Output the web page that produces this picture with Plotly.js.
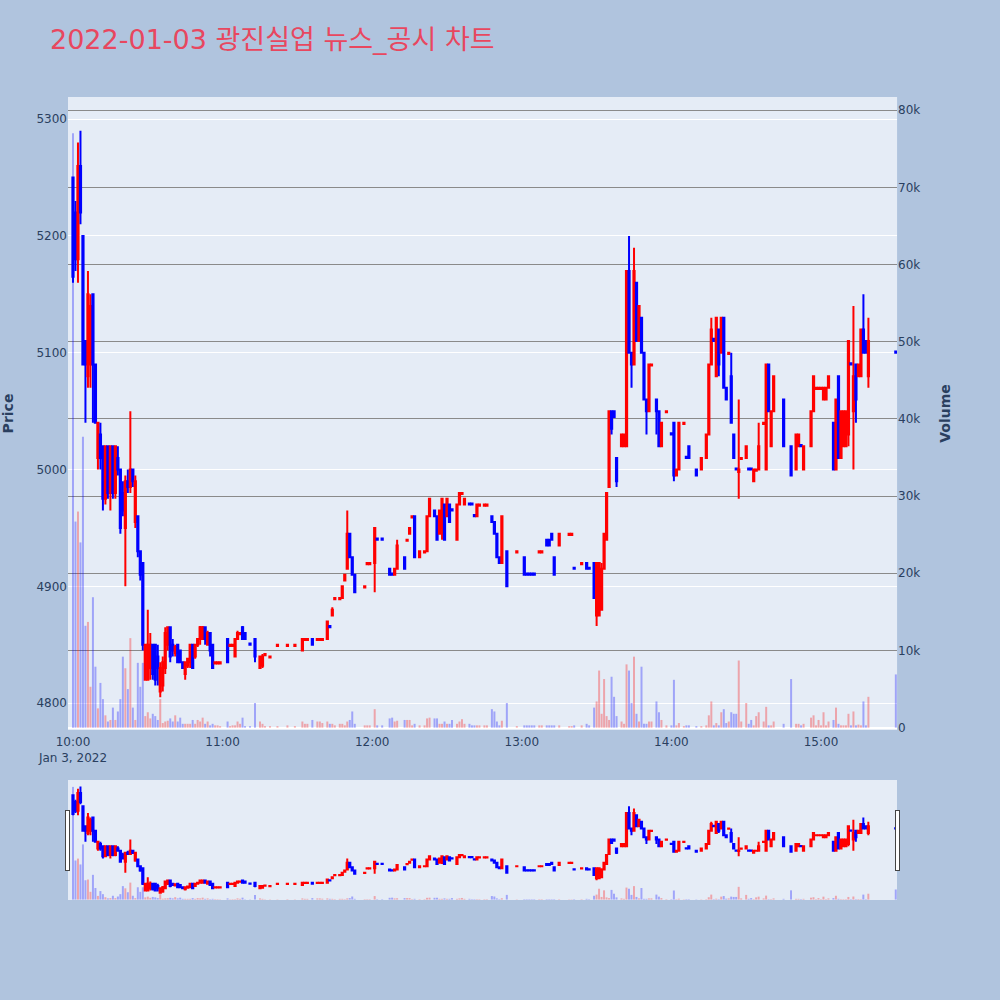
<!DOCTYPE html>
<html><head><meta charset="utf-8">
<script src="https://cdn.plot.ly/plotly-3.0.1.min.js"></script>
<style>body{margin:0;background:#B0C4DE;}</style>
</head><body>
<div id="chart" style="width:1000px;height:1000px;"></div>
<script>
const day = '2022-01-03 ';
const times = ['10:00','10:01','10:02','10:03','10:04','10:05','10:06','10:07','10:08','10:09','10:10','10:11','10:12','10:13','10:14','10:15','10:16','10:17','10:18','10:19','10:20','10:21','10:22','10:23','10:24','10:25','10:26','10:27','10:28','10:29','10:30','10:31','10:32','10:33','10:34','10:35','10:36','10:37','10:38','10:39','10:40','10:41','10:42','10:43','10:44','10:45','10:46','10:47','10:48','10:49','10:50','10:51','10:52','10:53','10:54','10:55','10:56','10:57','10:58','10:59','11:02','11:03','11:04','11:05','11:06','11:07','11:08','11:09','11:11','11:13','11:15','11:16','11:17','11:19','11:22','11:26','11:29','11:32','11:33','11:34','11:36','11:38','11:39','11:40','11:42','11:43','11:44','11:45','11:47','11:48','11:49','11:50','11:51','11:52','11:53','11:57','11:58','11:59','12:01','12:02','12:04','12:07','12:08','12:09','12:10','12:13','12:14','12:15','12:16','12:17','12:19','12:21','12:22','12:23','12:25','12:26','12:27','12:28','12:29','12:30','12:31','12:32','12:34','12:35','12:36','12:37','12:39','12:40','12:41','12:42','12:43','12:45','12:46','12:48','12:49','12:50','12:51','12:52','12:54','12:58','13:01','13:02','13:03','13:04','13:05','13:07','13:08','13:10','13:11','13:12','13:13','13:15','13:19','13:20','13:21','13:24','13:26','13:27','13:29','13:30','13:31','13:32','13:33','13:34','13:35','13:36','13:37','13:38','13:40','13:41','13:42','13:43','13:44','13:45','13:46','13:47','13:48','13:49','13:50','13:51','13:52','13:54','13:55','13:56','13:58','14:00','14:01','14:02','14:03','14:05','14:06','14:07','14:10','14:12','14:14','14:15','14:16','14:17','14:18','14:19','14:20','14:21','14:22','14:23','14:24','14:25','14:26','14:27','14:28','14:30','14:31','14:32','14:33','14:34','14:35','14:37','14:38','14:39','14:40','14:41','14:45','14:48','14:50','14:51','14:52','14:53','14:56','14:57','14:58','14:59','15:00','15:01','15:02','15:03','15:05','15:06','15:07','15:08','15:09','15:10','15:11','15:12','15:13','15:14','15:15','15:16','15:17','15:18','15:19','15:30'];
const openP = [5250,5220,5180,5260,5200,5110,5080,5090,5150,5090,5010,5030,5020,4975,5020,4980,5020,4980,5010,5000,4980,4950,4990,4985,5000,4955,4960,4930,4920,4820,4820,4830,4850,4850,4840,4810,4815,4830,4850,4865,4850,4843,4850,4845,4835,4825,4832,4835,4850,4840,4850,4855,4855,4865,4850,4860,4850,4834,4834,4834,4855,4849,4849,4840,4855,4859,4865,4860,4851,4855,4830,4832,4841,4839,4849,4849,4849,4845,4854,4854,4855,4854,4854,4854,4855,4866,4875,4889,4889,4890,4905,4915,4945,4925,4910,4899,4919,4919,4920,4941,4941,4915,4911,4910,4915,4925,4939,4945,4959,4960,4925,4929,4930,4960,4965,4960,4945,4950,4970,4960,4970,4966,4940,4970,4979,4970,4971,4971,4961,4960,4969,4969,4969,4960,4955,4945,4925,4920,4930,4929,4925,4911,4911,4911,4911,4929,4929,4940,4940,4945,4925,4935,4944,4944,4916,4919,4920,4916,4920,4875,4875,4880,4915,4940,4985,5050,5050,5010,5020,5020,5020,5170,5100,5090,5160,5110,5130,5100,5060,5050,5089,5060,5050,5020,5049,5031,5040,4995,5000,5039,5011,5020,5000,5000,5010,5030,5090,5112,5080,5120,5100,5130,5070,5099,5080,5030,5001,4998,5009,5010,5001,5001,4990,4999,5000,5039,5000,5090,5020,5050,5060,5020,5000,5020,5021,5000,5020,5050,5069,5069,5069,5060,5060,5070,5040,5000,5080,5010,5020,5020,5030,5091,5050,5090,5080,5080,5120,5110,5080,5101];
const highP = [5250,5230,5280,5290,5200,5110,5170,5150,5150,5090,5040,5040,5020,5020,5020,5020,5020,5020,5020,5000,4990,4995,5000,5050,5000,4995,4960,4930,4920,4850,4880,4860,4850,4850,4850,4835,4840,4865,4865,4865,4855,4850,4850,4845,4835,4835,4838,4850,4850,4850,4855,4866,4866,4865,4862,4860,4850,4835,4835,4835,4855,4850,4850,4855,4862,4860,4866,4860,4851,4855,4840,4842,4842,4840,4850,4850,4850,4855,4855,4855,4855,4855,4855,4855,4870,4866,4882,4890,4890,4900,4910,4965,4945,4925,4910,4900,4920,4920,4950,4941,4941,4915,4911,4915,4940,4925,4940,4950,4960,4960,4930,4930,4960,4975,4965,4960,4965,4975,4970,4975,4970,4966,4970,4980,4980,4975,4971,4971,4961,4970,4970,4970,4970,4960,4955,4945,4925,4960,4930,4930,4925,4911,4911,4911,4911,4930,4930,4940,4940,4945,4925,4945,4945,4945,4916,4920,4920,4916,4920,4920,4920,4920,4945,4980,5050,5050,5050,5010,5030,5030,5170,5200,5100,5190,5160,5140,5130,5100,5060,5090,5090,5060,5050,5040,5050,5031,5040,5000,5040,5040,5011,5020,5000,5010,5030,5090,5130,5112,5130,5120,5130,5130,5070,5100,5100,5030,5001,5060,5010,5020,5001,5001,5000,5000,5040,5040,5090,5090,5050,5080,5060,5020,5030,5030,5021,5020,5050,5080,5070,5070,5070,5070,5070,5080,5040,5060,5080,5050,5050,5050,5110,5091,5140,5090,5090,5120,5150,5110,5130,5101];
const lowP = [5160,5170,5160,5210,5090,5040,5070,5070,5040,5040,5000,5000,4965,4970,4975,4965,4975,4975,4995,4945,4960,4900,4980,4980,4985,4950,4925,4905,4845,4820,4820,4820,4820,4815,4815,4805,4810,4825,4845,4835,4840,4840,4835,4835,4830,4820,4830,4830,4830,4838,4848,4850,4855,4850,4850,4840,4830,4834,4834,4834,4835,4849,4849,4840,4855,4859,4855,4855,4850,4835,4830,4830,4841,4839,4849,4849,4849,4845,4854,4854,4850,4854,4854,4854,4855,4865,4875,4889,4889,4890,4905,4915,4925,4910,4895,4899,4919,4919,4895,4940,4940,4910,4910,4910,4915,4915,4939,4945,4959,4925,4925,4929,4930,4960,4960,4940,4945,4940,4940,4960,4955,4965,4940,4970,4979,4970,4970,4970,4960,4960,4969,4969,4969,4955,4945,4925,4920,4920,4900,4929,4910,4910,4910,4910,4910,4929,4929,4935,4935,4940,4910,4935,4944,4944,4915,4919,4915,4915,4890,4866,4875,4880,4915,4940,4985,5030,5045,4985,5020,5020,5020,5100,5070,5090,5110,5110,5100,5060,5030,5050,5089,5030,5020,5020,5049,5030,4990,4995,5000,5039,5010,5010,4995,5000,5010,5030,5090,5110,5080,5080,5100,5070,5060,5099,5040,5010,5000,4975,5009,5010,5000,5000,4990,4999,5000,5039,5000,5050,5020,5050,5020,4995,5000,5020,5020,5000,5020,5050,5069,5069,5069,5060,5060,5070,5000,5000,5010,5010,5020,5020,5020,5090,5000,5040,5080,5080,5100,5100,5070,5100];
const closeP = [5165,5180,5260,5220,5090,5090,5150,5140,5090,5040,5040,5010,4975,5020,4980,5020,4980,5020,5000,4950,4965,4990,4985,5000,4990,4990,4930,4910,4850,4850,4850,4850,4825,4820,4830,4830,4835,4860,4865,4840,4845,4848,4835,4835,4830,4835,4838,4850,4830,4850,4855,4865,4865,4855,4860,4845,4830,4835,4835,4835,4835,4850,4850,4855,4860,4860,4855,4855,4850,4840,4840,4840,4842,4840,4850,4850,4850,4855,4855,4855,4850,4855,4855,4855,4870,4865,4880,4890,4890,4900,4910,4945,4925,4910,4895,4900,4920,4920,4950,4940,4940,4910,4910,4915,4935,4915,4940,4950,4960,4925,4930,4930,4960,4975,4960,4940,4965,4975,4940,4975,4955,4965,4970,4980,4980,4975,4970,4970,4960,4970,4970,4970,4970,4955,4945,4925,4920,4960,4900,4930,4910,4910,4910,4910,4910,4930,4930,4935,4935,4940,4910,4945,4945,4945,4915,4920,4915,4915,4890,4920,4920,4915,4945,4980,5050,5035,5045,4990,5030,5030,5170,5100,5090,5170,5110,5140,5100,5060,5050,5090,5090,5050,5020,5040,5050,5030,4995,5000,5040,5040,5010,5010,4995,5010,5030,5090,5120,5110,5130,5090,5130,5070,5060,5100,5040,5010,5000,5000,5010,5020,5000,5000,5000,5000,5020,5040,5090,5050,5050,5080,5020,4995,5030,5030,5020,5020,5050,5080,5070,5070,5070,5070,5070,5080,5000,5060,5010,5050,5050,5050,5110,5090,5080,5060,5090,5120,5100,5100,5110,5100];
const volume = [77000,26700,28000,24000,37700,13200,13700,5300,16900,7900,2500,5800,3700,1600,800,1000,2600,1000,2100,3700,9200,7700,5000,11600,2600,1000,8400,5300,8400,1500,2000,1200,1800,1500,1000,3700,600,800,900,1200,800,1600,800,1300,500,500,500,500,1000,500,1000,800,1300,500,800,300,500,300,300,200,800,200,300,300,800,500,1300,200,200,3200,800,500,200,200,200,300,200,800,500,500,1000,800,800,600,800,500,500,300,500,500,300,800,1000,2100,500,300,300,300,2400,300,300,1200,1300,800,900,1000,1000,1000,300,500,300,300,1200,1300,1200,1200,500,500,800,500,500,1000,500,800,1100,500,500,300,300,300,300,300,300,2400,2100,800,300,900,3200,200,300,300,300,300,300,300,300,300,300,300,300,300,200,200,300,300,500,300,2600,3400,7400,1800,6300,1500,1000,6600,4000,1500,800,500,8200,7400,3200,9200,1800,800,7900,500,500,800,800,3400,2000,1000,300,300,6200,300,600,200,300,300,200,200,300,1600,3400,300,600,300,2000,2400,600,800,2000,1800,1800,8700,800,3200,500,1000,300,1500,2000,800,2700,300,300,800,500,6300,500,500,300,500,1300,1600,300,1000,300,2000,300,800,1000,2600,500,300,300,300,1800,300,2100,300,400,300,3400,300,4000,6900];

const xs = times.map(t => day + t);
const volColors = closeP.map((c, i) => c > openP[i] ? 'red' : 'blue');

const candle = {
  type: 'candlestick', x: xs, open: openP, high: highP, low: lowP, close: closeP,
  xaxis: 'x', yaxis: 'y', name: 'Price', showlegend: false,
  increasing: {line: {color: 'red', width: 2}, fillcolor: 'red'},
  decreasing: {line: {color: 'blue', width: 2}, fillcolor: 'blue'}
};
const bars = {
  type: 'bar', x: xs, y: volume, xaxis: 'x', yaxis: 'y2', name: 'Volume',
  showlegend: false, opacity: 0.3, marker: {color: volColors, line: {width: 0}}
};

const layout = {
  width: 1000, height: 1000,
  paper_bgcolor: '#B0C4DE', plot_bgcolor: '#E5ECF6',
  font: {family: 'Verdana, "DejaVu Sans", sans-serif', size: 12, color: '#2a3f5f'},
  margin: {l: 68, r: 50, t: 97, b: 100},
  title: {text: '2022-01-03 광진실업 뉴스_공시 차트', x: 0.05, xanchor: 'left', y: 0.96, yanchor: 'middle',
          font: {size: 27, color: '#E8475F', family: 'Verdana, "DejaVu Sans", "Noto Sans CJK KR", sans-serif'}},
  showlegend: false,
  xaxis: {
    type: 'date', domain: [0, 0.94], showgrid: false, zeroline: false,
    range: ['2022-01-03 09:58:00', '2022-01-03 15:30:30'],
    rangeslider: {visible: true, thickness: 0.15, range: ['2022-01-03 09:58:00', '2022-01-03 15:30:30']},
    ticks: 'outside', ticklen: 1, tickcolor: 'rgba(0,0,0,0)', tickfont: {size: 12}
  },
  yaxis: {
    title: {text: '<b>Price</b>', font: {size: 14}, standoff: 26},
    range: [4777, 5319], gridcolor: 'white', gridwidth: 1, zeroline: false, ticks: ''
  },
  yaxis2: {
    title: {text: '<b>Volume</b>', font: {size: 14}, standoff: 20},
    overlaying: 'y', side: 'right', anchor: 'x', range: [-300, 81700],
    gridcolor: '#8a8a8a', gridwidth: 1, zeroline: true, zerolinecolor: 'white', zerolinewidth: 2,
    showgrid: true, ticks: ''
  }
};

Plotly.newPlot('chart', [candle, bars], layout, {displayModeBar: false, staticPlot: true});
</script>
</body></html>
